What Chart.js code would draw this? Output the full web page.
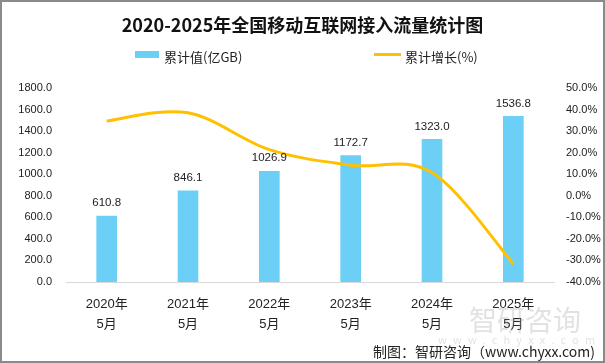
<!DOCTYPE html>
<html><head><meta charset="utf-8">
<script src="https://cdn.jsdelivr.net/npm/chart.js@4/dist/chart.umd.min.js"></script>
<style>
html,body{margin:0;padding:0;background:#fff;}
#wrap{position:relative;width:605px;height:363px;box-sizing:border-box;border:2px solid #8a8a8a;overflow:hidden;font-family:"Noto Sans CJK SC","Liberation Sans",sans-serif;}
#c{position:absolute;left:-2px;top:-2px;}
.t{position:absolute;white-space:nowrap;color:#222;}
#title{left:0;width:601px;text-align:center;top:9px;font-size:18px;font-weight:bold;color:#111;}
.lg{top:45px;font-size:13px;color:#222;}
#wm1{left:467px;top:297px;font-size:28px;color:rgba(160,160,160,0.3);}
#wm2{left:436px;top:329px;font-size:11px;letter-spacing:6.2px;color:rgba(160,160,160,0.3);}
#foot{right:8px;top:339px;font-size:14px;color:#222;}
</style></head>
<body>
<div id="wrap">
<canvas id="c" width="605" height="363"></canvas>
<div class="t" id="title">2020-2025年全国移动互联网接入流量统计图</div>
<div style="position:absolute;left:133px;top:49px;width:24px;height:7px;background:#6CCFF6;"></div>
<div class="t lg" style="left:162px;">累计值(亿GB)</div>
<div style="position:absolute;left:372px;top:51px;width:27px;height:3px;background:#FFC000;"></div>
<div class="t lg" style="left:403px;">累计增长(%)</div>
<div class="t" id="wm1">智研咨询</div>
<div class="t" id="wm2">www.chyxx.com</div>
<div class="t" id="foot">制图：智研咨询（www.chyxx.com)</div>
</div>
<script>
const categories = [["2020年","5月"],["2021年","5月"],["2022年","5月"],["2023年","5月"],["2024年","5月"],["2025年","5月"]];
const cumulativeValues = [610.8, 846.1, 1026.9, 1172.7, 1323.0, 1536.8];
const cumulativeGrowth = [34.7, 38.5, 21.4, 14.2, 10.8, -31.6];
const leftTicks = {min:0, max:1800, step:200};
const rightTicks = {min:-40, max:50, step:10};

const barLabels = {
  id:'barLabels',
  afterDatasetsDraw(chart){
    const ctx = chart.ctx;
    const meta = chart.getDatasetMeta(1);
    ctx.save();
    ctx.font = '11.5px "Liberation Sans", sans-serif';
    ctx.fillStyle = '#222';
    ctx.textAlign = 'center';
    ctx.textBaseline = 'middle';
    meta.data.forEach((el,i)=>{
      ctx.fillText(cumulativeValues[i].toFixed(1), el.x, el.y - 13);
    });
    ctx.restore();
  }
};

// Office-style smoothing: uniform Catmull-Rom control points from the library-positioned points
const officeSmooth = {
  id:'officeSmooth',
  beforeDatasetsDraw(chart){
    const meta = chart.getDatasetMeta(0);
    const line = meta.dataset;
    line.updateControlPoints(chart.chartArea, 'x');
    const pts = meta.data;
    const n = pts.length;
    for (let i = 0; i < n; i++) {
      const p = pts[i];
      const prev = pts[Math.max(0, i-1)];
      const next = pts[Math.min(n-1, i+1)];
      const dx = (next.x - prev.x) / 6, dy = (next.y - prev.y) / 6;
      p.cp1x = p.x - dx; p.cp1y = p.y - dy;
      p.cp2x = p.x + dx; p.cp2y = p.y + dy;
    }
    line._path = undefined;
  }
};

new Chart(document.getElementById('c'), {
  data:{
    labels:categories,
    datasets:[
      {type:'line', label:'累计增长(%)', data:cumulativeGrowth, yAxisID:'y1', borderColor:'#FFC000', borderWidth:3, pointRadius:0, tension:0.4, capBezierPoints:false, order:0, fill:false},
      {type:'bar', label:'累计值(亿GB)', data:cumulativeValues, yAxisID:'y', backgroundColor:'#6CCFF6', barThickness:20, order:1}
    ]
  },
  options:{
    responsive:false, animation:false,
    layout:{padding:{top:88,left:0,right:0,bottom:0}},
    plugins:{legend:{display:false}, title:{display:false}, tooltip:{enabled:false}},
    scales:{
      x:{
        offset:true,
        grid:{display:false, drawTicks:false},
        border:{display:true, color:'#D9D9D9', width:1},
        ticks:{padding:12, color:'#222', maxRotation:0, autoSkip:false, font:{size:13, family:'"Liberation Sans", "Noto Sans CJK SC", sans-serif', lineHeight:1.58}},
        afterFit(s){ s.height = 81; }
      },
      y:{
        position:'left', min:leftTicks.min, max:leftTicks.max,
        grid:{display:false, drawTicks:false}, border:{display:false},
        ticks:{stepSize:leftTicks.step, padding:14, color:'#222', font:{size:11, family:'"Liberation Sans", sans-serif'}, callback:v=>Number(v).toFixed(1)},
        afterFit(s){ s.width = 66; }
      },
      y1:{
        position:'right', min:rightTicks.min, max:rightTicks.max,
        grid:{display:false, drawTicks:false}, border:{display:false},
        ticks:{stepSize:rightTicks.step, padding:12, color:'#222', font:{size:11, family:'"Liberation Sans", sans-serif'}, callback:v=>Number(v).toFixed(1)+'%'},
        afterFit(s){ s.width = 51; }
      }
    }
  },
  plugins:[barLabels, officeSmooth]
});
</script>
</body></html>
